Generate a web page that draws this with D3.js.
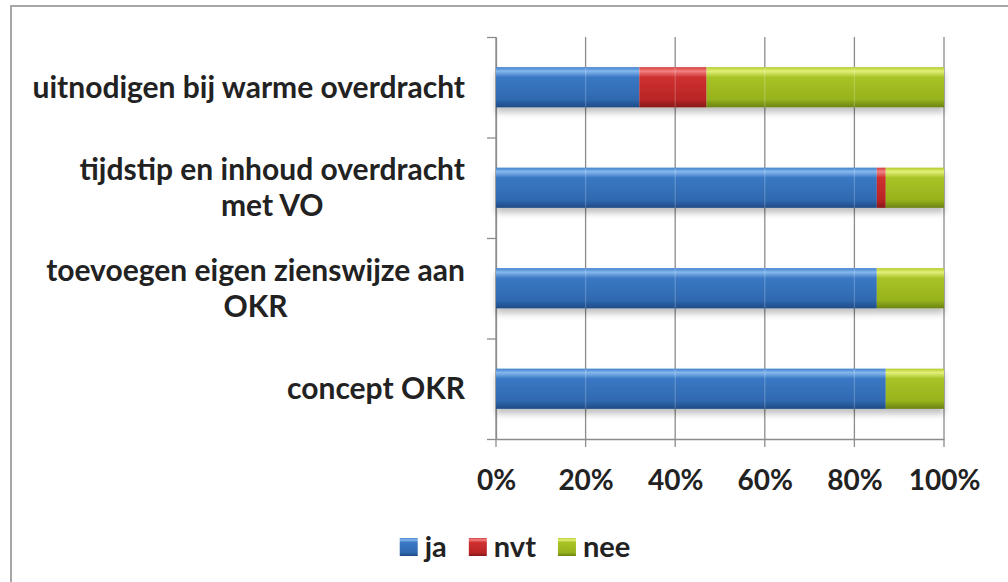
<!DOCTYPE html>
<html>
<head>
<meta charset="utf-8">
<script src="https://cdn.jsdelivr.net/npm/d3@7"></script>
<style>
  body { margin: 0; background: #fff; }
  svg { display: block; }
  text { font-family: Lato, "Open Sans", sans-serif; font-weight: 700; fill: #222; }
</style>
</head>
<body>
<div id="chart"></div>
<script>
// data (percent of respondents)
var categories = ["uitnodigen bij warme overdracht",
                  "tijdstip en inhoud overdracht\nmet VO",
                  "toevoegen eigen zienswijze aan\nOKR",
                  "concept OKR"]
var ja  = [32, 85, 85, 87]
var nvt = [15,  2,  0,  0]
var nee = [53, 13, 15, 13]
var seriesNames = ["ja", "nvt", "nee"]
var xTicks = [0, 20, 40, 60, 80, 100]

var W = 1008, H = 582
var plot = {left: 496, right: 944, top: 37, bottom: 439}

var svg = d3.select("#chart").append("svg")
  .attr("width", W).attr("height", H)

// gradients for the Excel-style bevelled bars
var defs = svg.append("defs")
var palettes = {
  ja:  ["#3f7fcb", "#86b8ee", "#3a78c4", "#2f69b0", "#1e4a85"],
  nvt: ["#d33c3c", "#f28282", "#cf3030", "#b92525", "#861818"],
  nee: ["#b3cb2a", "#e3f07a", "#a8c326", "#97b31c", "#6a8312"]
}
var offs = [0, 0.1, 0.25, 0.8, 1]
seriesNames.forEach(function(s) {
  var g = defs.append("linearGradient").attr("id", "grad-" + s)
    .attr("x1", 0).attr("y1", 0).attr("x2", 0).attr("y2", 1)
  palettes[s].forEach(function(c, i) {
    g.append("stop").attr("offset", offs[i]).attr("stop-color", c)
  })
})
var shadow = defs.append("filter").attr("id", "shadow")
  .attr("x", "-5%").attr("y", "-20%").attr("width", "110%").attr("height", "160%")
shadow.append("feDropShadow").attr("dx", 0).attr("dy", 5)
  .attr("stdDeviation", 3).attr("flood-color", "#000").attr("flood-opacity", 0.25)

// chart border (runs off the right and bottom edges)
svg.append("rect")
  .attr("x", 11).attr("y", 6).attr("width", 1010).attr("height", 600)
  .attr("fill", "none").attr("stroke", "#a6a6a6").attr("stroke-width", 2)

var x = d3.scaleLinear().domain([0, 100]).range([plot.left, plot.right])
var y = d3.scaleBand().domain(categories).range([plot.top, plot.bottom])
  .paddingInner(0.6).paddingOuter(0.3)

// vertical gridlines
svg.append("g").selectAll("line").data(xTicks).enter().append("line")
  .attr("x1", function(d) { return x(d) }).attr("x2", function(d) { return x(d) })
  .attr("y1", plot.top).attr("y2", plot.bottom + 8)
  .attr("stroke", "#8c8c8c").attr("stroke-width", 1.3)

// x axis
var xAxis = d3.axisBottom(x).tickValues(xTicks)
  .tickFormat(function(d) { return d + "%" })
  .tickSize(0).tickPadding(43)
var gx = svg.append("g").attr("transform", "translate(0," + plot.bottom + ")").call(xAxis)
gx.select(".domain").attr("stroke", "#8c8c8c").attr("stroke-width", 1.3)
gx.selectAll("text").attr("font-size", 28).attr("font-family", null)
  .attr("fill", "#222").attr("dy", "0.3em")

// y axis: Excel puts the ticks between categories
var yEdge = d3.scaleLinear().domain([0, categories.length]).range([plot.top, plot.bottom])
var yAxis = d3.axisLeft(yEdge).tickValues(d3.range(categories.length + 1))
  .tickFormat("").tickSizeInner(9).tickSizeOuter(0)
var gy = svg.append("g").attr("transform", "translate(" + plot.left + ",0)").call(yAxis)
gy.select(".domain").attr("stroke", "#8c8c8c").attr("stroke-width", 1.3)
gy.selectAll(".tick line").attr("stroke", "#8c8c8c").attr("stroke-width", 1.3)

// stacked bars
var rows = categories.map(function(c, i) { return {cat: c, ja: ja[i], nvt: nvt[i], nee: nee[i]} })
var stack = d3.stack().keys(seriesNames)(rows)
var bars = svg.append("g").attr("filter", "url(#shadow)")
stack.forEach(function(layer) {
  bars.append("g").selectAll("rect").data(layer.filter(function(d) { return d[1] > d[0] }))
    .enter().append("rect")
    .attr("x", function(d) { return x(d[0]) })
    .attr("y", function(d) { return y(d.data.cat) })
    .attr("width", function(d) { return x(d[1]) - x(d[0]) })
    .attr("height", y.bandwidth())
    .attr("fill", "url(#grad-" + layer.key + ")")
})

// faint gridline reflections over the bars
categories.forEach(function(c) {
  svg.append("g").selectAll("line").data(xTicks.slice(1, -1)).enter().append("line")
    .attr("x1", function(d) { return x(d) }).attr("x2", function(d) { return x(d) })
    .attr("y1", y(c)).attr("y2", y(c) + y.bandwidth())
    .attr("stroke", "#fff").attr("stroke-opacity", 0.2).attr("stroke-width", 1.3)
})

// category labels, right aligned block, lines centred on each other
var labelRight = 465, lineGap = 36
categories.forEach(function(c) {
  var lines = c.split("\n")
  var g = svg.append("g")
  var texts = lines.map(function(l, i) {
    return g.append("text").attr("font-size", 30).attr("text-anchor", "middle")
      .attr("dy", "0.35em")
      .attr("y", y(c) + y.bandwidth() / 2 + (i - (lines.length - 1) / 2) * lineGap)
      .text(l)
  })
  var maxW = d3.max(texts, function(t) { return t.node().getComputedTextLength() })
  texts.forEach(function(t) { t.attr("x", labelRight - maxW / 2) })
})

// legend
var legend = svg.append("g")
var lx = 0
seriesNames.forEach(function(s) {
  legend.append("rect").attr("x", lx).attr("y", -9).attr("width", 18).attr("height", 18)
    .attr("fill", "url(#grad-" + s + ")")
  var t = legend.append("text").attr("x", lx + 25).attr("y", 0).attr("dy", "0.35em")
    .attr("font-size", 29).text(s)
  lx += 25 + t.node().getComputedTextLength() + 22
})
var legendW = lx - 22
legend.attr("transform", "translate(" + (515 - legendW / 2) + ",547)")
</script>
</body>
</html>
